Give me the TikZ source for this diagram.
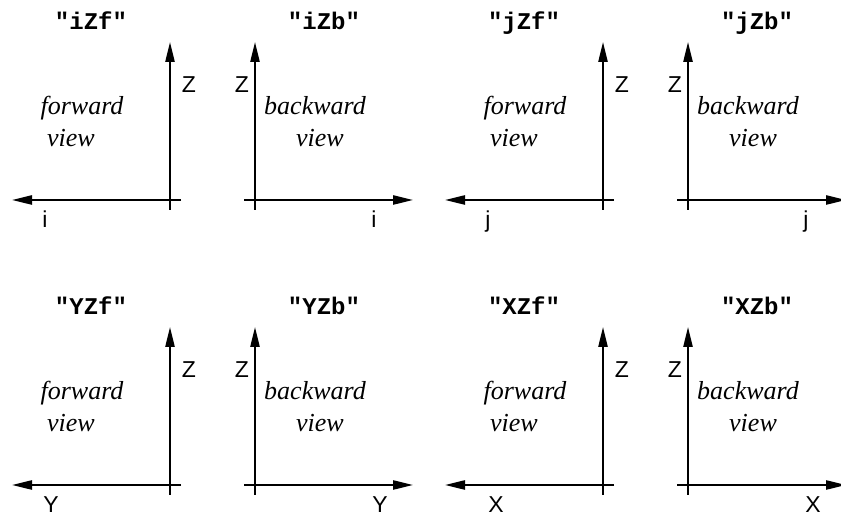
\documentclass[tikz,border=0pt]{standalone}
\usepackage{fontspec}
\setmainfont{Liberation Serif}
\setsansfont{Liberation Sans}
\setmonofont{Liberation Mono}
\usetikzlibrary{arrows.meta}

\begin{document}
\begin{tikzpicture}[x=0.5pt, y=-0.5pt,
    eje/.style={line width=0.9pt, -{Triangle[length=10pt, width=4.6pt]}},
    titulo/.style={anchor=base, inner sep=0pt, font=\fontsize{12}{14}\ttfamily\bfseries},
    letra/.style={anchor=base, inner sep=0pt, font=\fontsize{11.5}{14}\sffamily},
    vista/.style={anchor=base, inner sep=0pt, font=\fontsize{13}{15}\itshape}]

    \useasboundingbox (0,0) rectangle (841,517);

    % vista hacia adelante: #1 = desplazamiento, #2 = prefijo, #3 = titulo,
    % #4 = eje horizontal, #5 = posicion de su letra, #6 = posicion del texto
    \newcommand{\vistaadelante}[6]{%
        \begin{scope}[shift={#1}]
            \coordinate (#2abajo) at (0,10);
            \coordinate (#2arriba) at (0,-158);
            \coordinate (#2der) at (11,0);
            \coordinate (#2izq) at (-158,0);
            \draw[eje] (#2abajo) -- (#2arriba);
            \draw[eje] (#2der) -- (#2izq);
            \node[titulo] (#2tit) at (-79,-170) {"#3"};
            \node[letra] (#2z) at (19,-107) {Z};
            \node[letra] (#2h) at (#5,28) {#4};
            \node[vista] (#2t1) at (#6,-85) {forward};
            \node[vista] (#2t2) at ([xshift=-5.5]#6,-53) {view};
        \end{scope}}
    % vista hacia atras
    \newcommand{\vistaatras}[5]{%
        \begin{scope}[shift={#1}]
            \coordinate (#2abajo) at (0,10);
            \coordinate (#2arriba) at (0,-158);
            \coordinate (#2izq) at (-11,0);
            \coordinate (#2der) at (158,0);
            \draw[eje] (#2abajo) -- (#2arriba);
            \draw[eje] (#2izq) -- (#2der);
            \node[titulo] (#2tit) at (69,-170) {"#3"};
            \node[letra] (#2z) at (-13,-107) {Z};
            \node[letra] (#2h) at (#5,28) {#4};
            \node[vista] (#2t1) at (60,-85) {backward};
            \node[vista] (#2t2) at (65,-53) {view};
        \end{scope}}

    \vistaadelante{(170,200)}{a}{iZf}{i}{-125}{-88}
    \vistaatras{(255,200)}{b}{iZb}{i}{119}
    \vistaadelante{(603,200)}{c}{jZf}{j}{-115}{-78}
    \vistaatras{(688,200)}{d}{jZb}{j}{118}

    \vistaadelante{(170,485)}{e}{YZf}{Y}{-119}{-88}
    \vistaatras{(255,485)}{f}{YZb}{Y}{125}
    \vistaadelante{(603,485)}{g}{XZf}{X}{-107}{-78}
    \vistaatras{(688,485)}{h}{XZb}{X}{125}

\end{tikzpicture}
\end{document}
